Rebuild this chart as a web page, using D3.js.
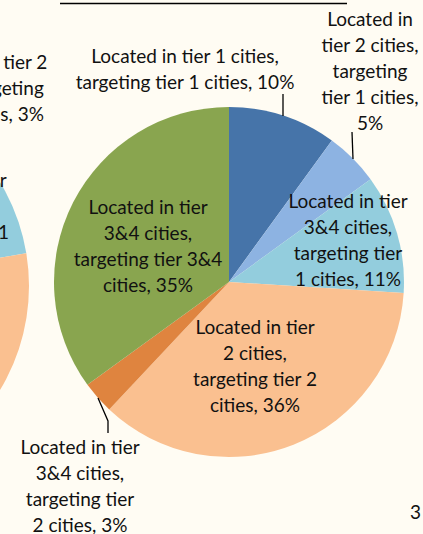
<!DOCTYPE html>
<html>
<head>
<meta charset="utf-8">
<script src="https://cdn.jsdelivr.net/npm/d3@7"></script>
<style>
  html, body { margin: 0; padding: 0; background: #fffcf3; }
  #chart { width: 423px; height: 534px; overflow: hidden; }
  text { font-family: Lato, "Open Sans", sans-serif; fill: #111; }
</style>
</head>
<body>
<div id="chart"></div>
<script>
// Main pie: share of companies by location / target city tier
var categories = [
  'Located in tier 1 cities, targeting tier 1 cities',
  'Located in tier 2 cities, targeting tier 1 cities',
  'Located in tier 3&4 cities, targeting tier 1 cities',
  'Located in tier 2 cities, targeting tier 2 cities',
  'Located in tier 3&4 cities, targeting tier 2 cities',
  'Located in tier 3&4 cities, targeting tier 3&4 cities'
];
var values = [10, 5, 11, 36, 3, 35];
var colors = ['#4674a9', '#8db3e2', '#93cddd', '#fac090', '#df843f', '#89a54f'];

// label lines as wrapped in the picture
var labelLines = [
  ['Located in tier 1 cities,', 'targeting tier 1 cities, 10%'],
  ['Located in', 'tier 2 cities,', 'targeting', 'tier 1 cities,', '5%'],
  ['Located in tier', '3&4 cities,', 'targeting tier', '1 cities, 11%'],
  ['Located in tier', '2 cities,', 'targeting tier 2', 'cities, 36%'],
  ['Located in tier', '3&4 cities,', 'targeting tier', '2 cities, 3%'],
  ['Located in tier', '3&4 cities,', 'targeting tier 3&4', 'cities, 35%']
];

// Neighbouring pie, cut off at the left edge of the slide
var leftValues = [9, 3, 10.4, 41, 3, 33.6];
var leftLabelLines = [
  null,
  ['Located in tier 2', 'cities, targeting', 'tier 1 cities, 3%'],
  ['Located in tier', '3&4 cities,', 'targeting tier 1', 'cities, 10%'],
  null, null, null
];

(function () {
  var W = 423, H = 534;
  var svg = d3.select('#chart').append('svg')
      .attr('width', W).attr('height', H);

  svg.append('rect').attr('width', W).attr('height', H).attr('fill', '#fffcf3');

  var pie = d3.pie().sort(null).value(function (d) { return d; });
  var lineH = 26;

  function drawLabel(g, lines, cx, cy) {
    var t = g.append('text')
        .attr('text-anchor', 'middle')
        .attr('font-size', 19);
    lines.forEach(function (s, i) {
      t.append('tspan')
        .attr('x', cx)
        .attr('y', cy + (i - (lines.length - 1) / 2) * lineH)
        .attr('dy', '0.35em')
        .text(s);
    });
  }

  // ---- left (cropped) pie
  var gl = svg.append('g').attr('transform', 'translate(-172,286)');
  var arcL = d3.arc().innerRadius(0).outerRadius(201);
  gl.selectAll('path.sl').data(pie(leftValues)).enter().append('path')
    .attr('d', arcL)
    .attr('fill', function (d, i) { return colors[i]; });
  var leftLabelPos = [null, [152, -198], [119, -67], null, null, null];
  leftLabelLines.forEach(function (lines, i) {
    if (lines) drawLabel(gl, lines, leftLabelPos[i][0], leftLabelPos[i][1]);
  });

  // ---- main pie
  var cx = 229, cy = 282, r = 175;
  var g = svg.append('g').attr('transform', 'translate(' + cx + ',' + cy + ')');
  var arc = d3.arc().innerRadius(0).outerRadius(r);
  var arcs = pie(values);
  g.selectAll('path.sl').data(arcs).enter().append('path')
    .attr('d', arc)
    .attr('fill', function (d, i) { return colors[i]; });

  // label centres relative to pie centre (as placed in the picture)
  var labelPos = [
    [-44, -213],
    [141, -211],
    [119, -42],
    [26, 84],
    [-149, 204],
    [-81, -36]
  ];
  labelLines.forEach(function (lines, i) {
    drawLabel(g, lines, labelPos[i][0], labelPos[i][1]);
  });

  // leader lines from outside labels to their slices
  var leaders = [
    { i: 0, pts: [[54, -188], [54, -166]] },
    { i: 1, pts: [[123, -150], [124, -123]] },
    { i: 4, pts: [[-131, 116], [-121, 139], [-121, 151]] }
  ];
  var line = d3.line();
  leaders.forEach(function (l) {
    g.append('path')
      .attr('d', line(l.pts))
      .attr('fill', 'none')
      .attr('stroke', '#000')
      .attr('stroke-width', 1.3);
  });

  // underline of slide title (text itself is above the crop)
  svg.append('line')
    .attr('x1', 60).attr('x2', 347).attr('y1', 3.5).attr('y2', 3.5)
    .attr('stroke', '#000').attr('stroke-width', 1.5);

  // page number
  svg.append('text')
    .attr('x', 421).attr('y', 519)
    .attr('text-anchor', 'end')
    .attr('font-size', 19)
    .text('3');
})();
</script>
</body>
</html>
